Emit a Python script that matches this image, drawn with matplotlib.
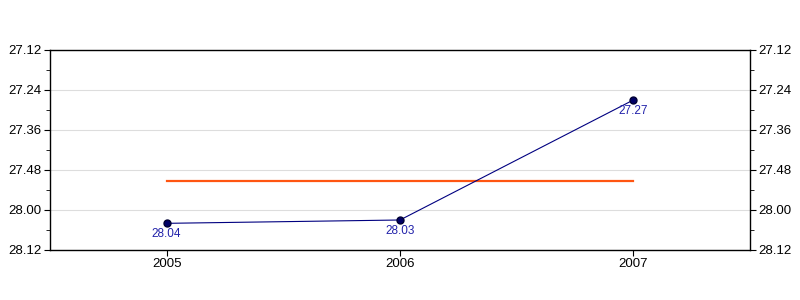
import matplotlib
matplotlib.use("Agg")
import matplotlib.pyplot as plt
from matplotlib.ticker import FixedLocator, FuncFormatter, MultipleLocator

plt.rcParams["font.family"] = ["Liberation Sans", "DejaVu Sans"]

# data: times written as minutes.seconds
years = [2005, 2006, 2007]
times = ["28.04", "28.03", "27.27"]
y_ticks = ["27.12", "27.24", "27.36", "27.48", "28.00", "28.12"]


def to_sec(s):
    m, sec = s.split(".")
    return int(m) * 60 + int(sec)


def fmt_sec(v, _pos=None):
    v = int(round(v))
    return f"{v // 60}.{v % 60:02d}"


secs = [to_sec(t) for t in times]
avg = sum(secs) / len(secs)
tick_secs = [to_sec(t) for t in y_ticks]

fig = plt.figure(figsize=(8, 3), dpi=100)
ax = fig.add_axes([0.0625, 1 / 6, 0.875, 2 / 3])

ax.plot(years, [avg] * len(years), color="#ff5511", lw=1.6, zorder=2)
ax.plot(years, secs, color="#000080", lw=0.8, marker="o", ms=5,
        mfc="#000066", mec="#000033", zorder=3)
for x, y, t in zip(years, secs, times):
    ax.annotate(t, (x, y), xytext=(0, -3.5), textcoords="offset points",
                ha="center", va="top", fontsize=8.5, color="#2222aa")

ax.set_xlim(2004.5, 2007.5)
ax.set_ylim(tick_secs[-1], tick_secs[0])
ax.yaxis.set_major_locator(FixedLocator(tick_secs))
ax.yaxis.set_minor_locator(MultipleLocator(6))
ax.yaxis.set_major_formatter(FuncFormatter(fmt_sec))
ax.set_xticks(years)
ax.set_xticklabels([str(y) for y in years])

ax.grid(axis="y", color="#dddddd", lw=0.8, zorder=0)
ax.set_axisbelow(True)
for sp in ax.spines.values():
    sp.set_color("black")
    sp.set_linewidth(1)

ax.tick_params(axis="y", which="both", left=True, right=True,
               labelleft=True, labelright=True, direction="out")
ax.tick_params(axis="y", which="major", length=4.5, labelsize=9.5, pad=1.5)
ax.tick_params(axis="y", which="minor", length=3)
ax.tick_params(axis="x", length=4, labelsize=9.5, direction="out", pad=1.5)
for lab in ax.get_xticklabels() + ax.get_yticklabels():
    lab.set_fontweight("medium")

fig.savefig("out.png", dpi=100)
